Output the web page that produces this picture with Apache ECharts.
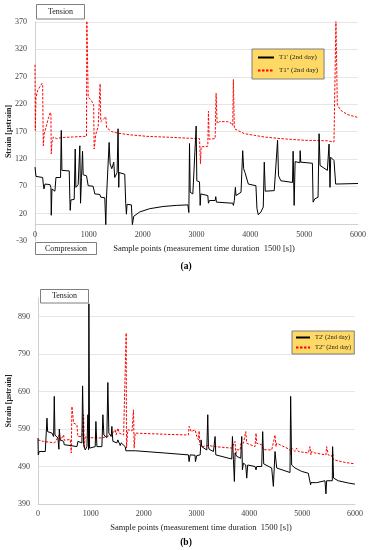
<!DOCTYPE html>
<html><head><meta charset="utf-8">
<script src="https://cdn.jsdelivr.net/npm/echarts@6/dist/echarts.min.js"></script>
<style>html,body{margin:0;padding:0;background:#fff}#c{width:373px;height:550px}</style>
</head><body><div id="c"></div>
<script>
// ---- Data ----
const xTicks = [0, 1000, 2000, 3000, 4000, 5000, 6000];
const yTicksA = [-30, 20, 70, 120, 170, 220, 270, 320, 370];
const yTicksB = [390, 490, 590, 690, 790, 890];
const seriesNames = ["T1' (2nd day)", "T1'' (2nd day)", "T2' (2nd day)", "T2'' (2nd day)"];

// (a) T1' black
const T1p = [[0,105],[18,88],[142,86],[154,74],[167,65],[185,74],[278,73],[296,68],[302,17],[315,65],[370,61],[389,86],[401,85],[475,86],[488,172],[500,99],[636,98],[648,45],[654,26],[667,45],[728,46],[747,138],[759,68],[802,73],[833,144],[846,39],[864,86],[883,134],[895,91],[957,89],[988,71],[1080,70],[1111,56],[1204,55],[1222,50],[1296,49],[1315,0],[1327,47],[1377,150],[1395,111],[1426,102],[1463,114],[1481,86],[1525,95],[1543,175],[1556,68],[1562,95],[1667,92],[1685,39],[1698,19],[1710,37],[1790,36],[1809,0],[1833,15],[1944,23],[2130,29],[2377,33],[2623,35],[2840,36],[2858,22],[2870,148],[2883,59],[2932,56],[2994,180],[3006,80],[3056,78],[3068,35],[3080,56],[3210,53],[3222,39],[3241,44],[3346,44],[3358,51],[3370,41],[3673,39],[3685,35],[3703,44],[3722,68],[3734,53],[3827,59],[3858,135],[3876,102],[3901,95],[3938,92],[3963,74],[4104,71],[4123,29],[4148,18],[4197,23],[4240,32],[4259,114],[4277,61],[4444,62],[4506,154],[4524,89],[4567,80],[4783,77],[4795,134],[4814,35],[4832,115],[4920,113],[4925,135],[4937,114],[5153,112],[5166,41],[5197,47],[5258,50],[5277,166],[5295,108],[5431,99],[5462,147],[5480,68],[5493,123],[5554,117],[5585,74],[5616,73],[6000,75]];
// (a) T1'' red dashed
const T1pp = [[0,292],[6,172],[18,232],[50,245],[130,258],[142,254],[154,144],[170,165],[250,195],[285,205],[296,200],[302,129],[315,150],[340,160],[401,157],[500,159],[700,160],[900,161],[957,161],[963,372],[988,233],[1050,226],[1090,218],[1099,138],[1130,165],[1173,179],[1204,182],[1210,257],[1222,188],[1235,188],[1315,197],[1330,177],[1358,174],[1420,170],[1537,167],[1759,164],[2100,161],[2377,160],[2800,158],[3056,157],[3068,157],[3074,111],[3086,142],[3210,143],[3222,207],[3235,156],[3346,157],[3364,240],[3383,185],[3426,188],[3580,188],[3642,185],[3673,181],[3685,265],[3703,175],[3765,172],[3889,166],[4074,163],[4259,160],[4567,157],[4999,154],[5431,153],[5554,151],[5585,151],[5590,372],[5616,218],[5678,209],[5801,201],[5986,196]];
// (b) T2' black
const T2p = [[0,566],[5,521],[25,530],[138,530],[157,534],[170,619],[182,583],[264,579],[296,570],[308,677],[321,574],[377,566],[396,536],[403,590],[422,561],[485,557],[497,548],[611,546],[737,543],[755,557],[831,553],[844,705],[863,548],[894,534],[926,543],[944,628],[957,535],[963,924],[976,539],[1083,543],[1096,610],[1115,543],[1209,543],[1228,628],[1247,574],[1303,567],[1322,714],[1341,579],[1385,570],[1398,597],[1417,557],[1493,553],[1511,561],[1556,546],[1574,553],[1650,543],[1663,532],[1839,532],[2400,526],[2847,521],[2860,503],[2879,521],[2973,520],[2980,503],[3005,519],[3069,521],[3087,561],[3100,543],[3195,534],[3213,628],[3226,543],[3239,536],[3321,530],[3352,570],[3365,521],[3667,510],[3680,570],[3699,508],[3717,450],[3730,526],[3762,517],[3837,512],[3856,570],[3869,481],[3888,499],[3932,494],[3951,459],[3969,494],[4108,490],[4127,481],[4140,490],[4234,490],[4253,583],[4272,497],[4423,486],[4455,437],[4486,530],[4518,486],[4770,474],[4782,677],[4801,494],[4864,486],[4990,477],[5116,472],[5148,468],[5160,441],[5166,447],[5274,447],[5292,452],[5431,452],[5450,417],[5463,452],[5570,452],[5576,543],[5595,459],[5683,452],[5872,446],[5998,443]];
// (b) T2'' red dashed
const T2pp = [[0,561],[100,557],[315,553],[403,574],[410,557],[485,574],[497,560],[611,562],[630,526],[642,650],[674,606],[737,601],[755,570],[831,570],[863,628],[876,539],[894,570],[957,567],[1209,566],[1303,570],[1398,575],[1460,588],[1480,575],[1511,592],[1540,579],[1620,574],[1650,570],[1669,846],[1675,539],[1700,588],[1780,585],[1808,641],[1820,539],[1839,579],[2400,576],[2847,574],[2860,597],[2900,583],[2973,588],[3005,570],[3037,561],[3050,585],[3060,548],[3100,543],[3226,546],[3352,543],[3667,539],[3730,557],[3743,521],[3762,535],[3825,534],[3843,552],[3888,552],[3932,583],[3951,552],[3982,548],[4108,543],[4127,579],[4140,552],[4234,548],[4266,535],[4423,534],[4486,574],[4505,543],[4518,552],[4770,535],[4788,521],[4801,539],[4864,530],[4895,539],[4927,530],[5116,526],[5148,543],[5166,521],[5179,530],[5242,526],[5450,521],[5463,543],[5494,521],[5557,517],[5576,530],[5589,508],[5809,501],[5998,497]];

// ---- Chart ----
const FONT = 'Liberation Serif';
const labelColor = '#404040';
const gridColor = '#e6e6e6';
const axisColor = '#d0d0d0';
const gridA = { left: 35, top: 22, width: 323, height: 219, outerBoundsMode: 'none', containLabel: false };
const gridB = { left: 38, top: 297.75, width: 317, height: 206.25, outerBoundsMode: 'none', containLabel: false };
// x axis of (a) crosses the y axis at value 0 (Excel style): shift it up from the grid bottom
const zeroOffsetA = -gridA.height * (0 - (-30)) / (370 - (-30));

function xAxisDef(idx) {
  return {
    type: 'value', gridIndex: idx, min: 0, max: 6000, interval: 1000,
    offset: idx === 0 ? zeroOffsetA : 0,
    axisLine: { show: true, onZero: false, lineStyle: { color: axisColor } },
    axisTick: { show: false }, splitLine: { show: false },
    axisLabel: { fontSize: 8, fontFamily: FONT, color: labelColor, margin: 6,
      formatter: v => (xTicks.indexOf(v) >= 0 ? String(v) : '') }
  };
}
function yAxisDef(idx, min, max, interval, ticks, gap) {
  return {
    type: 'value', gridIndex: idx, min: min, max: max, interval: interval,
    name: 'Strain [\u03bcstrain]', nameLocation: 'middle', nameGap: gap, nameMoveOverlap: false,
    nameTextStyle: { fontSize: 8, fontFamily: FONT, fontWeight: 'bold', color: '#222' },
    axisLine: { show: true, onZero: false, lineStyle: { color: axisColor } },
    axisTick: { show: false },
    splitLine: { show: true, showMinLine: false, showMaxLine: idx === 0, lineStyle: { color: gridColor, width: 1 } },
    axisLabel: { fontSize: 8, fontFamily: FONT, color: labelColor, margin: 8,
      showMaxLabel: idx === 0,
      formatter: v => (ticks.indexOf(v) >= 0 ? String(v) : '') }
  };
}
const blackStyle = { color: '#000000', width: 1 };
const redStyle = { color: '#ff0000', width: 1, type: [2.5, 1.5] };

const chart = echarts.init(document.getElementById('c'), null, { renderer: 'canvas' });
chart.setOption({
  animation: false,
  backgroundColor: '#ffffff',
  grid: [gridA, gridB],
  xAxis: [xAxisDef(0), xAxisDef(1)],
  yAxis: [yAxisDef(0, -30, 370, 50, yTicksA, 22.5), yAxisDef(1, 390, 940, 100, yTicksB, 25.5)],
  legend: [
    { data: [seriesNames[0], seriesNames[1]], orient: 'vertical', left: 252, top: 49,
      backgroundColor: '#ffd966', borderColor: '#7f7f7f', borderWidth: 1,
      padding: [5, 6, 5, 5], itemWidth: 16, itemHeight: 6, itemGap: 6,
      itemStyle: { opacity: 0 },
      textStyle: { fontSize: 7, fontFamily: FONT, color: '#222' }, selectedMode: false },
    { data: [seriesNames[2], seriesNames[3]], orient: 'vertical', left: 292, top: 331,
      backgroundColor: '#ffd966', borderColor: '#7f7f7f', borderWidth: 1,
      padding: [3, 3, 3, 3], itemWidth: 14, itemHeight: 5, itemGap: 3,
      itemStyle: { opacity: 0 },
      textStyle: { fontSize: 6.5, fontFamily: FONT, color: '#222' }, selectedMode: false }
  ],
  series: [
    { name: seriesNames[0], type: 'line', xAxisIndex: 0, yAxisIndex: 0, data: T1p, symbol: 'none', lineStyle: blackStyle, itemStyle: { color: '#000' }, z: 3 },
    { name: seriesNames[1], type: 'line', xAxisIndex: 0, yAxisIndex: 0, data: T1pp, symbol: 'none', lineStyle: redStyle, itemStyle: { color: '#ff0000' }, z: 2 },
    { name: seriesNames[2], type: 'line', xAxisIndex: 1, yAxisIndex: 1, data: T2p, symbol: 'none', lineStyle: blackStyle, itemStyle: { color: '#000' }, z: 3 },
    { name: seriesNames[3], type: 'line', xAxisIndex: 1, yAxisIndex: 1, data: T2pp, symbol: 'none', lineStyle: redStyle, itemStyle: { color: '#ff0000' }, z: 2 }
  ],
  graphic: [
    { type: 'rect', shape: { x: 36.5, y: 4.5, width: 48, height: 14.5 }, style: { fill: '#fff', stroke: '#7f7f7f', lineWidth: 1 }, z: 10 },
    { type: 'text', x: 60.5, y: 11.8, style: { text: 'Tension', fontSize: 8, fontFamily: FONT, fill: '#222', align: 'center', verticalAlign: 'middle' }, z: 11 },
    { type: 'rect', shape: { x: 35.5, y: 242.5, width: 61, height: 12 }, style: { fill: '#fff', stroke: '#7f7f7f', lineWidth: 1 }, z: 10 },
    { type: 'text', x: 66, y: 248.5, style: { text: 'Compression', fontSize: 8, fontFamily: FONT, fill: '#222', align: 'center', verticalAlign: 'middle' }, z: 11 },
    { type: 'rect', shape: { x: 40.5, y: 289.5, width: 48, height: 13.5 }, style: { fill: '#fff', stroke: '#7f7f7f', lineWidth: 1 }, z: 10 },
    { type: 'text', x: 64.5, y: 296.3, style: { text: 'Tension', fontSize: 8, fontFamily: FONT, fill: '#222', align: 'center', verticalAlign: 'middle' }, z: 11 },
    { type: 'text', x: 204, y: 248.5, style: { text: 'Sample points (measurement time duration  1500 [s])', fontSize: 8.5, fontFamily: FONT, fill: '#222', align: 'center', verticalAlign: 'middle' } },
    { type: 'text', x: 201, y: 527.5, style: { text: 'Sample points (measurement time duration  1500 [s])', fontSize: 8.5, fontFamily: FONT, fill: '#222', align: 'center', verticalAlign: 'middle' } },
    { type: 'text', x: 186, y: 267, style: { text: '(a)', fontSize: 9.5, fontWeight: 'bold', fontFamily: FONT, fill: '#000', align: 'center', verticalAlign: 'middle' } },
    { type: 'text', x: 186, y: 543, style: { text: '(b)', fontSize: 9.5, fontWeight: 'bold', fontFamily: FONT, fill: '#000', align: 'center', verticalAlign: 'middle' } }
  ]
});
</script></body></html>
